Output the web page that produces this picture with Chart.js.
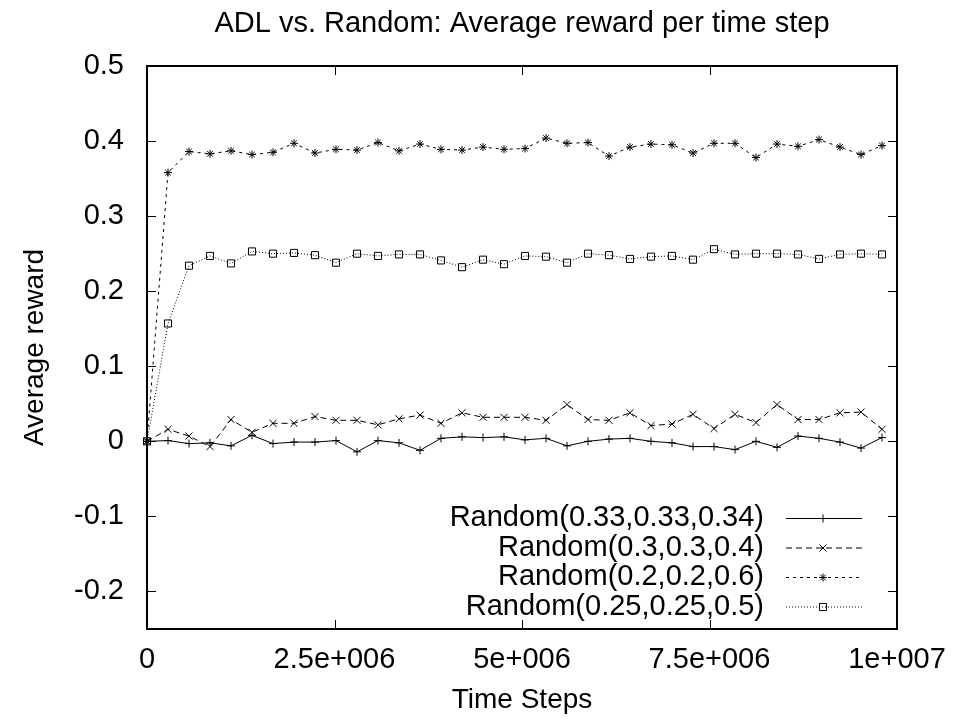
<!DOCTYPE html>
<html>
<head>
<meta charset="utf-8">
<title>ADL vs. Random</title>
<script src="https://cdn.jsdelivr.net/npm/chart.js@4.4.1/dist/chart.umd.min.js"></script>
<style>
  html, body { margin: 0; padding: 0; background: #fff; }
  #wrap { width: 953px; height: 719px; }
</style>
</head>
<body>
<div id="wrap"><canvas id="rewardChart" width="953" height="719"></canvas></div>
<script>
// Time steps (x) of each sample
const timeSteps = [
  0, 280000, 560000, 840000, 1120000, 1400000, 1680000, 1960000, 2240000,
  2520000, 2800000, 3080000, 3360000, 3640000, 3920000, 4200000, 4480000,
  4760000, 5040000, 5320000, 5600000, 5880000, 6160000, 6440000, 6720000,
  7000000, 7280000, 7560000, 7840000, 8120000, 8400000, 8680000, 8960000,
  9240000, 9520000, 9800000
];

const seriesLabels = [
  "Random(0.33,0.33,0.34)",
  "Random(0.3,0.3,0.4)",
  "Random(0.2,0.2,0.6)",
  "Random(0.25,0.25,0.5)"
];

const random333334 = [
  0, 0.001, -0.003, -0.002, -0.006, 0.008, -0.003, -0.001, -0.001, 0.001,
  -0.014, 0.001, -0.002, -0.012, 0.004, 0.006, 0.005, 0.006, 0.002, 0.004,
  -0.006, 0.000, 0.003, 0.004, 0.000, -0.002, -0.007, -0.007, -0.011, 0.000,
  -0.008, 0.007, 0.004, -0.001, -0.009, 0.005
];

const random3034 = [
  0, 0.016, 0.007, -0.007, 0.029, 0.012, 0.024, 0.024, 0.033, 0.028,
  0.028, 0.022, 0.030, 0.035, 0.024, 0.038, 0.032, 0.032, 0.032, 0.028,
  0.049, 0.029, 0.028, 0.038, 0.021, 0.023, 0.036, 0.017, 0.036, 0.025,
  0.049, 0.029, 0.029, 0.038, 0.039, 0.016
];

const random2026 = [
  0, 0.358, 0.386, 0.383, 0.387, 0.382, 0.385, 0.397, 0.384, 0.389,
  0.388, 0.398, 0.387, 0.396, 0.389, 0.388, 0.392, 0.389, 0.390, 0.404,
  0.397, 0.398, 0.380, 0.392, 0.396, 0.395, 0.384, 0.397, 0.397, 0.378,
  0.396, 0.393, 0.402, 0.392, 0.382, 0.394
];

const random252505 = [
  0, 0.157, 0.234, 0.247, 0.237, 0.253, 0.250, 0.251, 0.248, 0.238,
  0.250, 0.247, 0.249, 0.249, 0.241, 0.232, 0.242, 0.236, 0.247, 0.246,
  0.238, 0.250, 0.248, 0.243, 0.246, 0.247, 0.242, 0.256, 0.249, 0.250,
  0.250, 0.249, 0.243, 0.249, 0.250, 0.249
];

const xTickValues = [0, 2500000, 5000000, 7500000, 10000000];
const xTickLabels = ["0", "2.5e+006", "5e+006", "7.5e+006", "1e+007"];
const yTickValues = [-0.2, -0.1, 0, 0.1, 0.2, 0.3, 0.4, 0.5];
const yTickLabels = ["-0.2", "-0.1", "0", "0.1", "0.2", "0.3", "0.4", "0.5"];

const FONT = "'Liberation Sans', Arial, Helvetica, sans-serif";

function toPoints(values) {
  return timeSteps.map((t, i) => ({ x: t, y: values[i] }));
}

function makeDataset(label, values, style, radius, dash) {
  return {
    label: label,
    data: toPoints(values),
    borderColor: "#000",
    backgroundColor: "rgba(0,0,0,0)",
    borderWidth: 1,
    borderDash: dash,
    pointStyle: style,
    pointRadius: radius,
    pointBorderWidth: 1,
    pointBorderColor: "#000",
    pointBackgroundColor: "rgba(0,0,0,0)",
    tension: 0,
    fill: false,
    clip: false
  };
}

// frame with inward ticks on all four sides, gnuplot style
const framePlugin = {
  id: "frame",
  afterDraw(chart) {
    const { ctx, chartArea: a } = chart;
    const xs = chart.scales.x, ys = chart.scales.y;
    const len = 9;
    ctx.save();
    ctx.strokeStyle = "#000";
    ctx.lineWidth = 1;
    ctx.beginPath();
    xTickValues.forEach(v => {
      const px = Math.round(xs.getPixelForValue(v)) + 0.5;
      ctx.moveTo(px, a.bottom); ctx.lineTo(px, a.bottom - len);
      ctx.moveTo(px, a.top); ctx.lineTo(px, a.top + len);
    });
    yTickValues.forEach(v => {
      const py = Math.round(ys.getPixelForValue(v)) + 0.5;
      ctx.moveTo(a.left, py); ctx.lineTo(a.left + len, py);
      ctx.moveTo(a.right, py); ctx.lineTo(a.right - len, py);
    });
    ctx.stroke();
    ctx.lineWidth = 2;
    ctx.strokeRect(a.left, a.top, a.right - a.left, a.bottom - a.top);
    ctx.restore();
  }
};

// legend: text right-aligned, sample line to its right
const legendPlugin = {
  id: "keyBox",
  afterDraw(chart) {
    const ctx = chart.ctx;
    ctx.save();
    ctx.font = "29px " + FONT;
    ctx.textAlign = "right";
    ctx.textBaseline = "middle";
    chart.data.datasets.forEach((ds, i) => {
      const y = 518 + i * 29.5;
      ctx.fillStyle = "#000";
      ctx.fillText(ds.label, 764, y);
      ctx.strokeStyle = "#000";
      ctx.lineWidth = 1;
      ctx.setLineDash(ds.borderDash || []);
      ctx.beginPath();
      ctx.moveTo(786, y + 0.5);
      ctx.lineTo(862, y + 0.5);
      ctx.stroke();
      ctx.setLineDash([]);
      ctx.fillStyle = "rgba(0,0,0,0)";
      Chart.helpers.drawPoint(ctx, {
        pointStyle: ds.pointStyle, radius: ds.pointRadius, rotation: 0, borderWidth: 1
      }, 823, y + 0.5);
    });
    ctx.restore();
  }
};

const ctx = document.getElementById("rewardChart").getContext("2d");
new Chart(ctx, {
  type: "line",
  data: {
    datasets: [
      makeDataset(seriesLabels[0], random333334, "cross", 4, []),
      makeDataset(seriesLabels[1], random3034, "crossRot", 5, [6, 4]),
      makeDataset(seriesLabels[2], random2026, "star", 4, [3, 4]),
      makeDataset(seriesLabels[3], random252505, "rect", 5, [1, 2])
    ]
  },
  options: {
    responsive: false,
    animation: false,
    layout: { padding: 0 },
    plugins: {
      legend: { display: false },
      tooltip: { enabled: false },
      title: {
        display: true,
        fullSize: false,
        text: "ADL vs. Random: Average reward per time step",
        color: "#000",
        font: { family: FONT, size: 29, weight: "normal" },
        padding: { top: 7, bottom: 24.2 }
      }
    },
    scales: {
      x: {
        type: "linear",
        min: 0,
        max: 10000000,
        grid: { display: false, drawTicks: true, tickLength: 8 },
        border: { display: false },
        afterBuildTicks: axis => { axis.ticks = xTickValues.map(v => ({ value: v })); },
        afterFit: scale => { scale.height = 90; },
        ticks: {
          autoSkip: false,
          maxRotation: 0,
          padding: 6,
          color: "#000",
          font: { family: FONT, size: 29 },
          callback: (value, index) => xTickLabels[index]
        },
        title: {
          display: true,
          text: "Time Steps",
          color: "#000",
          font: { family: FONT, size: 28 },
          padding: { top: 0, bottom: 2 }
        }
      },
      y: {
        type: "linear",
        min: -0.25,
        max: 0.5,
        grid: { display: false, drawTicks: false },
        border: { display: false },
        afterBuildTicks: axis => { axis.ticks = yTickValues.map(v => ({ value: v })); },
        afterFit: scale => { scale.width = 147; },
        ticks: {
          autoSkip: false,
          padding: 23,
          color: "#000",
          font: { family: FONT, size: 29 },
          callback: (value, index) => yTickLabels[index]
        },
        title: {
          display: true,
          text: "Average reward",
          color: "#000",
          font: { family: FONT, size: 28 },
          padding: { top: 18, bottom: 0 }
        }
      },
      yRight: {
        type: "linear",
        position: "right",
        display: true,
        grid: { display: false, drawTicks: false },
        border: { display: false },
        ticks: { display: false },
        afterFit: scale => { scale.width = 56; }
      }
    }
  },
  plugins: [framePlugin, legendPlugin]
});
</script>
</body>
</html>
